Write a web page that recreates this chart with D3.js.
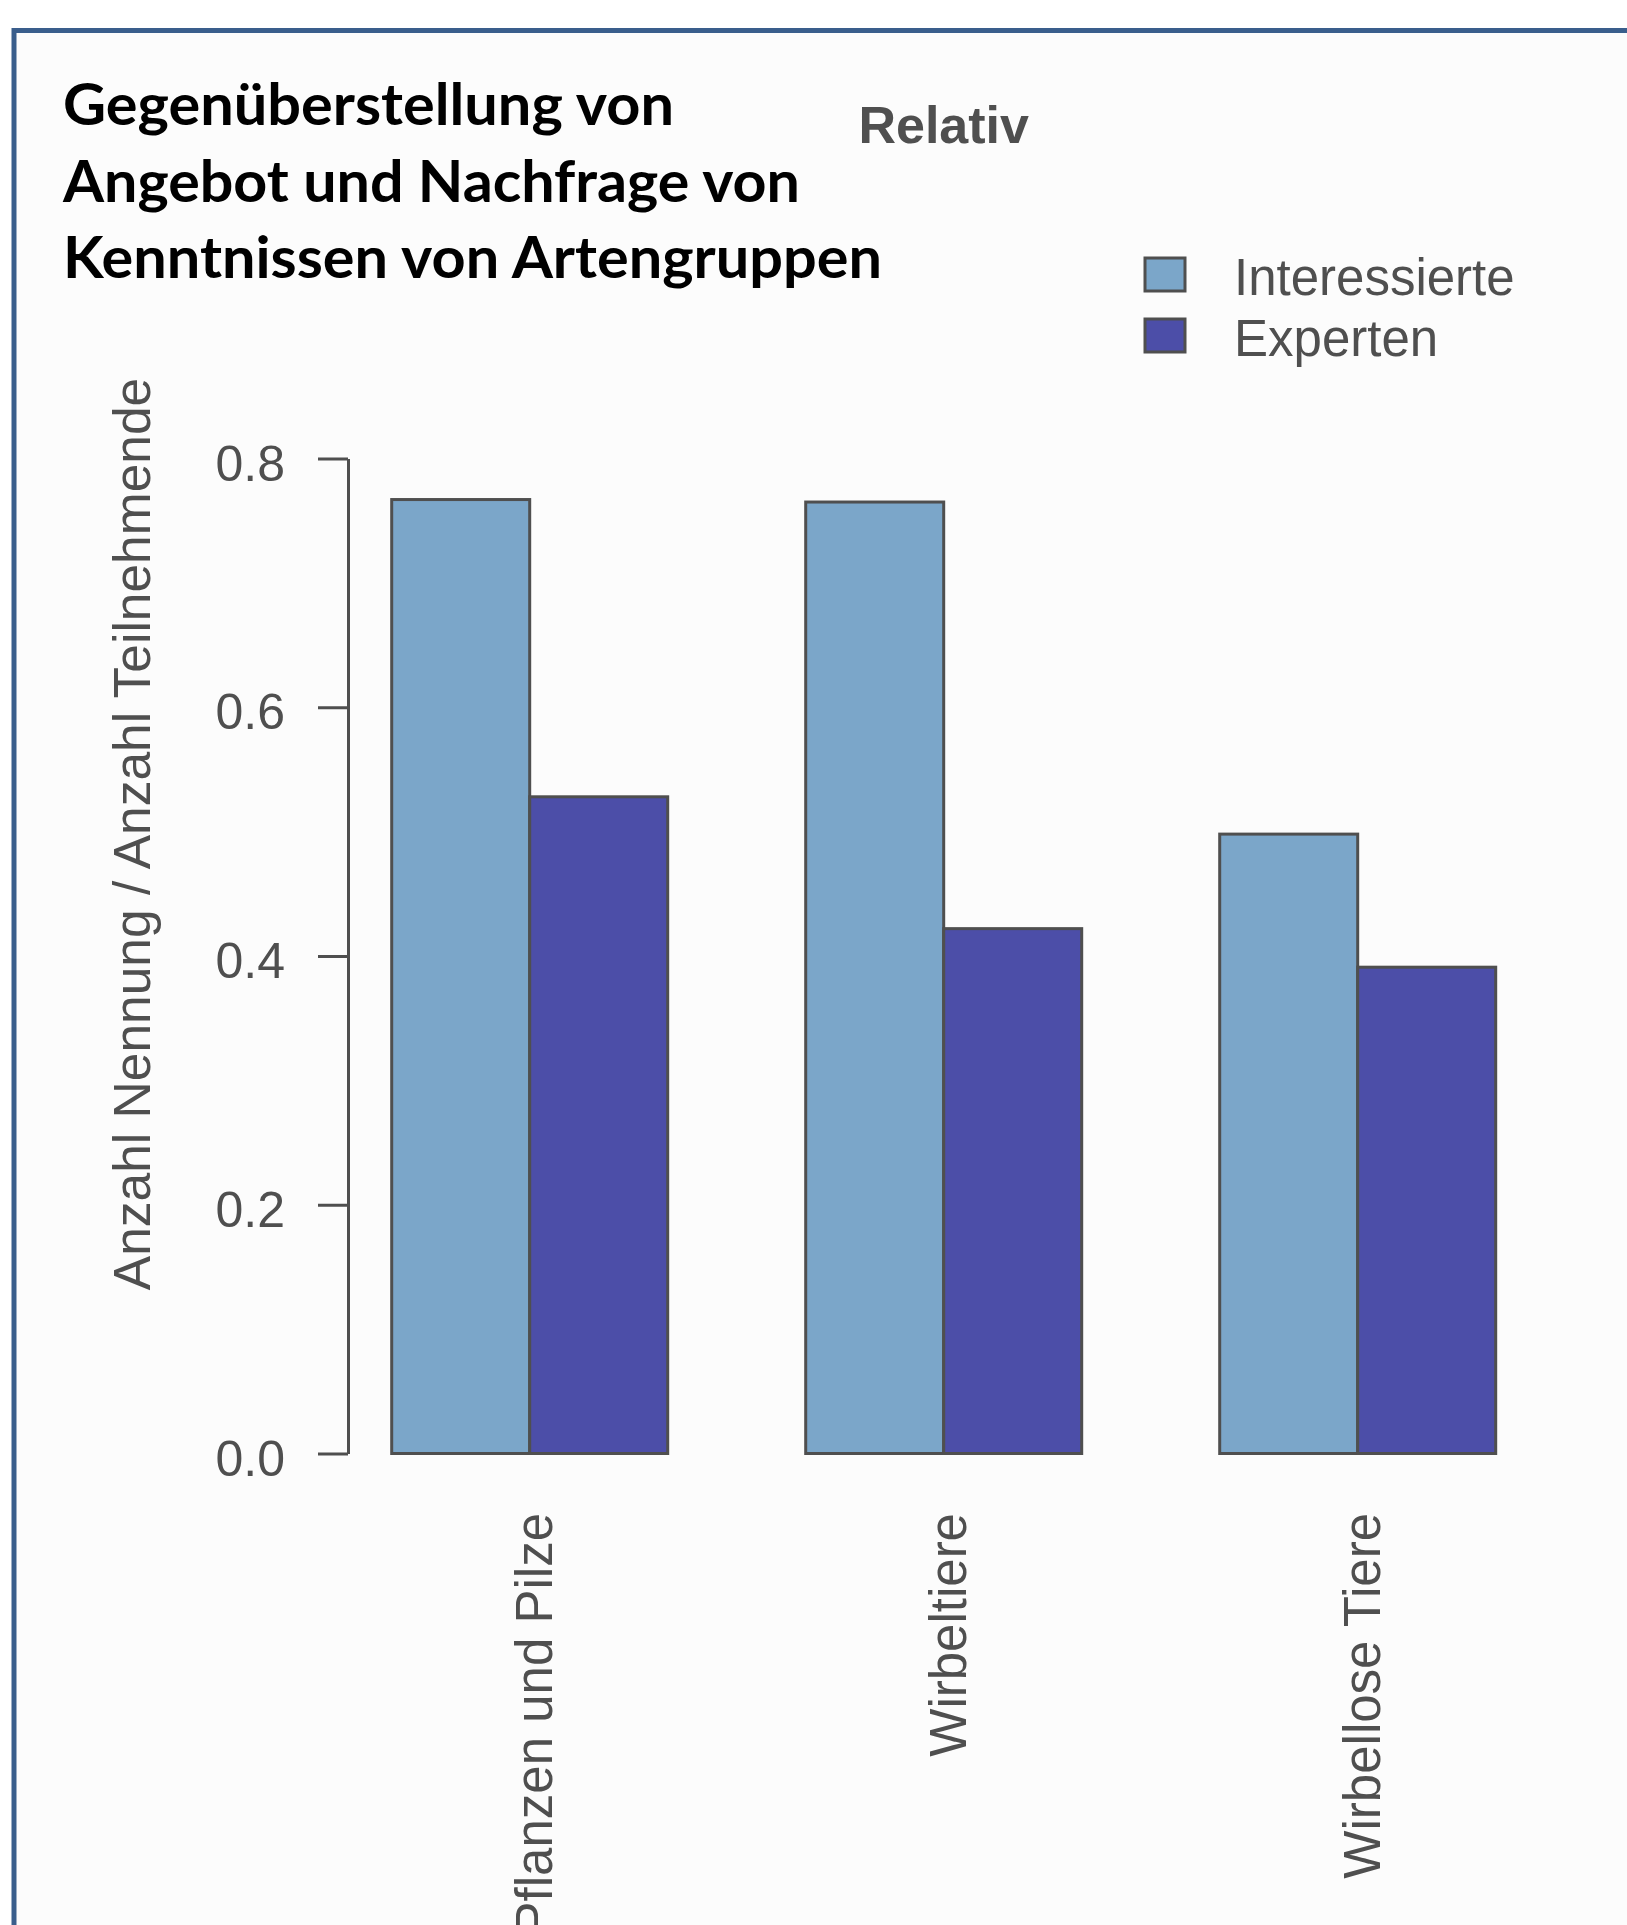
<!DOCTYPE html>
<html>
<head>
<meta charset="utf-8">
<script src="https://cdn.jsdelivr.net/npm/d3@7"></script>
<style>
  html, body { margin: 0; padding: 0; background: #ffffff; }
  svg { display: block; }
</style>
</head>
<body>
<script>
// data
const groups = ["Pflanzen und Pilze", "Wirbeltiere", "Wirbellose Tiere"];
const seriesNames = ["Interessierte", "Experten"];
const interessierte = [0.767, 0.765, 0.498];
const experten = [0.528, 0.422, 0.391];
const seriesColors = ["#7ba6c9", "#4c4ea8"];
const yTicks = [0, 0.2, 0.4, 0.6, 0.8];
const titleLines = ["Gegenüberstellung von", "Angebot und Nachfrage von", "Kenntnissen von Artengruppen"];

const width = 1627, height = 1925;
const grey = "#4f4f4f";
const rFont = "'Liberation Sans', Arial, sans-serif";

const svg = d3.select("body").append("svg")
  .attr("width", width)
  .attr("height", height);

// framed panel (border only top + left visible, rest runs off the page)
svg.append("rect")
  .attr("x", 14).attr("y", 30.5)
  .attr("width", width + 20).attr("height", height + 20)
  .attr("fill", "#fcfcfc")
  .attr("stroke", "#3a5e8c")
  .attr("stroke-width", 5);

// scales
const y = d3.scaleLinear().domain([0, 0.8]).range([1453.5, 458.5]);

const x0 = d3.scaleBand()
  .domain(groups)
  .range([391.7, 1495.7])
  .paddingInner(1 / 3)
  .paddingOuter(0);

const x1 = d3.scaleBand()
  .domain(seriesNames)
  .range([0, x0.bandwidth()])
  .padding(0);

const color = d3.scaleOrdinal().domain(seriesNames).range(seriesColors);

const rows = groups.map((g, i) => ({
  group: g,
  values: [
    { key: "Interessierte", value: interessierte[i] },
    { key: "Experten", value: experten[i] }
  ]
}));

// bars
const gGroups = svg.append("g").selectAll("g")
  .data(rows)
  .enter().append("g")
  .attr("transform", d => `translate(${x0(d.group)},0)`);

gGroups.selectAll("rect")
  .data(d => d.values)
  .enter().append("rect")
  .attr("x", d => x1(d.key))
  .attr("y", d => y(d.value))
  .attr("width", x1.bandwidth())
  .attr("height", d => y(0) - y(d.value))
  .attr("fill", d => color(d.key))
  .attr("stroke", grey)
  .attr("stroke-width", 3);

// y axis, R style
const yAxis = d3.axisLeft(y)
  .tickValues(yTicks)
  .tickFormat(d3.format(".1f"))
  .tickSize(30)
  .tickSizeOuter(0)
  .tickPadding(33);

const gy = svg.append("g")
  .attr("transform", "translate(348,0)")
  .call(yAxis);

gy.select(".domain").attr("stroke", grey).attr("stroke-width", 3);
gy.selectAll(".tick line").attr("stroke", grey).attr("stroke-width", 3);
gy.selectAll(".tick text")
  .attr("fill", grey)
  .attr("font-family", rFont)
  .attr("font-size", 50)
  .attr("dy", "0.43em");

// y axis title
svg.append("text")
  .attr("transform", "translate(150,834) rotate(-90)")
  .attr("text-anchor", "middle")
  .attr("font-family", rFont)
  .attr("font-size", 51.5)
  .attr("fill", grey)
  .text("Anzahl Nennung / Anzahl Teilnehmende");

// category labels, vertical
svg.append("g").selectAll("text")
  .data(groups)
  .enter().append("text")
  .attr("transform", d => `translate(${x0(d) + x0.bandwidth() / 2 + 22},1513) rotate(-90)`)
  .attr("text-anchor", "end")
  .attr("font-family", rFont)
  .attr("font-size", 51)
  .attr("fill", grey)
  .text(d => d);

// plot title
svg.append("text")
  .attr("x", (x0.range()[0] + x0.range()[1]) / 2)
  .attr("y", 143)
  .attr("text-anchor", "middle")
  .attr("font-family", rFont)
  .attr("font-weight", "bold")
  .attr("font-size", 52)
  .attr("fill", grey)
  .text("Relativ");

// legend
const legend = svg.append("g").selectAll("g")
  .data(seriesNames)
  .enter().append("g")
  .attr("transform", (d, i) => `translate(1145,${258 + i * 61})`);

legend.append("rect")
  .attr("width", 40)
  .attr("height", 33)
  .attr("fill", d => color(d))
  .attr("stroke", grey)
  .attr("stroke-width", 3);

legend.append("text")
  .attr("x", 89)
  .attr("y", 37)
  .attr("font-family", rFont)
  .attr("font-size", 51)
  .attr("fill", grey)
  .text(d => d);

// big black heading on the slide
const lineEnds = [674, 800, 882];
svg.append("g").selectAll("text")
  .data(titleLines)
  .enter().append("text")
  .attr("x", 63)
  .attr("y", (d, i) => 125 + i * 76.5)
  .attr("font-family", "Lato, 'Open Sans', sans-serif")
  .attr("font-weight", "bold")
  .attr("font-size", 58)
  .attr("fill", "#000000")
  .attr("textLength", (d, i) => lineEnds[i] - 63)
  .attr("lengthAdjust", "spacingAndGlyphs")
  .text(d => d);
</script>
</body>
</html>
